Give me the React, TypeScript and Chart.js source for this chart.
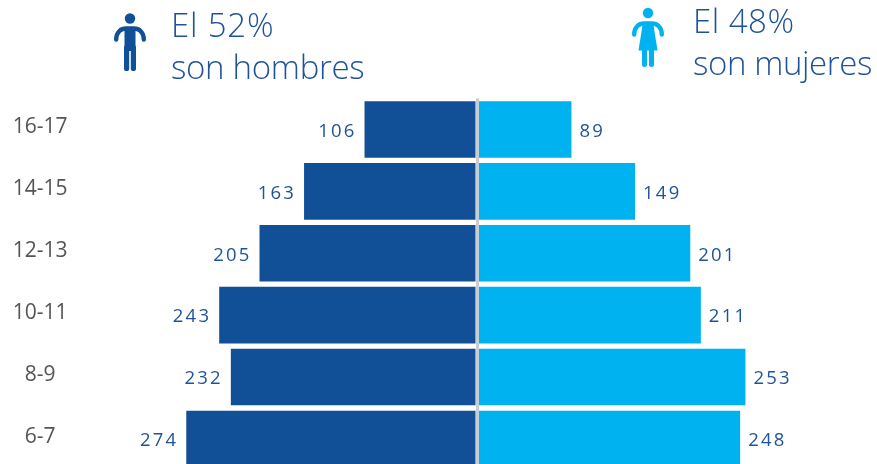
import React, { useEffect, useRef } from "react";
import { Chart, registerables } from "chart.js";

Chart.register(...registerables);

const ageGroups = ["16-17", "14-15", "12-13", "10-11", "8-9", "6-7"];
const hombres = [106, 163, 205, 243, 232, 274];
const mujeres = [89, 149, 201, 211, 253, 248];

const DARK = "#114F97";
const LIGHT = "#00B3F0";
const TEXT_BLUE = "#1F5399";

const valueLabels = {
  id: "valueLabels",
  afterDatasetsDraw(chart: any) {
    const { ctx } = chart;
    ctx.save();
    ctx.font = '400 18.5px "Open Sans"';
    ctx.fillStyle = TEXT_BLUE;
    ctx.textBaseline = "middle";
    (ctx as any).letterSpacing = "2.2px";
    chart.data.datasets.forEach((ds: any, di: number) => {
      chart.getDatasetMeta(di).data.forEach((bar: any, i: number) => {
        const text = String(Math.abs(ds.data[i]));
        ctx.textAlign = di === 0 ? "right" : "left";
        const x = di === 0 ? bar.x - 8 : bar.x + 8;
        ctx.fillText(text, x, bar.y + 2);
      });
    });
    ctx.restore();
  },
};

const headStyle: React.CSSProperties = {
  position: "absolute",
  fontFamily: '"Open Sans", sans-serif',
  fontWeight: 300,
  fontSize: 33,
  lineHeight: "42px",
  color: TEXT_BLUE,
  whiteSpace: "nowrap",
};

export default function App() {
  const ref = useRef<HTMLCanvasElement>(null);
  useEffect(() => {
    document.body.style.margin = "0";
    const chart = new Chart(ref.current!, {
      type: "bar",
      data: {
        labels: ageGroups,
        datasets: [
          { label: "Hombres", data: hombres.map((v) => -v), backgroundColor: DARK, borderWidth: 0, categoryPercentage: 1, barPercentage: 0.914 },
          { label: "Mujeres", data: mujeres, backgroundColor: LIGHT, borderWidth: 0, categoryPercentage: 1, barPercentage: 0.914 },
        ],
      },
      options: {
        indexAxis: "y",
        responsive: false,
        animation: false,
        layout: { padding: { top: 98.5, bottom: 0.7, left: 0, right: 0 } },
        plugins: { legend: { display: false }, tooltip: { enabled: false } },
        scales: {
          x: {
            stacked: true,
            min: -377,
            max: 377,
            afterFit: (a: any) => { a.height = 0; },
            ticks: { display: false, stepSize: 377 },
            border: { display: false },
            grid: {
              z: 1,
              drawTicks: false,
              lineWidth: 3,
              color: (c: any) => (c.tick && c.tick.value === 0 ? "#C9CDD3" : "rgba(0,0,0,0)"),
            },
          },
          y: {
            stacked: true,
            afterFit: (a: any) => { a.width = 77; },
            border: { display: false },
            grid: { display: false },
            ticks: {
              color: "#555555",
              font: { family: '"Open Sans"', size: 21 },
              crossAlign: "center",
              padding: 1.5,
              labelOffset: -2,
            },
          },
        },
      },
      plugins: [valueLabels],
    } as any);
    return () => chart.destroy();
  }, []);

  return (
    <div style={{ position: "relative", width: 877, height: 464, overflow: "hidden", background: "#fff" }}>
      <canvas ref={ref} width={877} height={484} style={{ position: "absolute", left: 0, top: 0 }} />
      <svg width={877} height={90} style={{ position: "absolute", left: 0, top: 0 }}>
        <g fill={DARK}>
          <circle cx={130} cy={18.5} r={5.2} />
          <path d="M116.2 39.5 C116.2 32 121 28.5 126 28.5 H134 C139 28.5 143.8 32 143.8 39.5" fill="none" stroke={DARK} strokeWidth={4.4} strokeLinecap="round" />
          <rect x={124.5} y={27} width={11} height={24} />
          <rect x={124} y={45} width={5.2} height={26} rx={2.6} />
          <rect x={130.8} y={45} width={5.2} height={26} rx={2.6} />
        </g>
        <g fill={LIGHT}>
          <circle cx={648} cy={13} r={5.2} />
          <path d="M634.2 34.5 C634.2 27 639 23.5 644 23.5 H652 C657 23.5 661.8 27 661.8 34.5" fill="none" stroke={LIGHT} strokeWidth={4.4} strokeLinecap="round" />
          <path d="M643 22 H653 L657.5 50.5 H638.5 Z" />
          <rect x={642} y={46} width={5} height={21} rx={2.5} />
          <rect x={649} y={46} width={5} height={21} rx={2.5} />
        </g>
      </svg>
      <div style={{ ...headStyle, left: 171, top: 4 }}>
        <span style={{ letterSpacing: "0.8px" }}>El 52%</span><br />
        <span style={{ letterSpacing: "-0.3px" }}>son hombres</span>
      </div>
      <div style={{ ...headStyle, left: 693, top: 0 }}>
        <span style={{ letterSpacing: "0.5px" }}>El 48%</span><br />
        <span style={{ letterSpacing: "-0.4px" }}>son mujeres</span>
      </div>
    </div>
  );
}
